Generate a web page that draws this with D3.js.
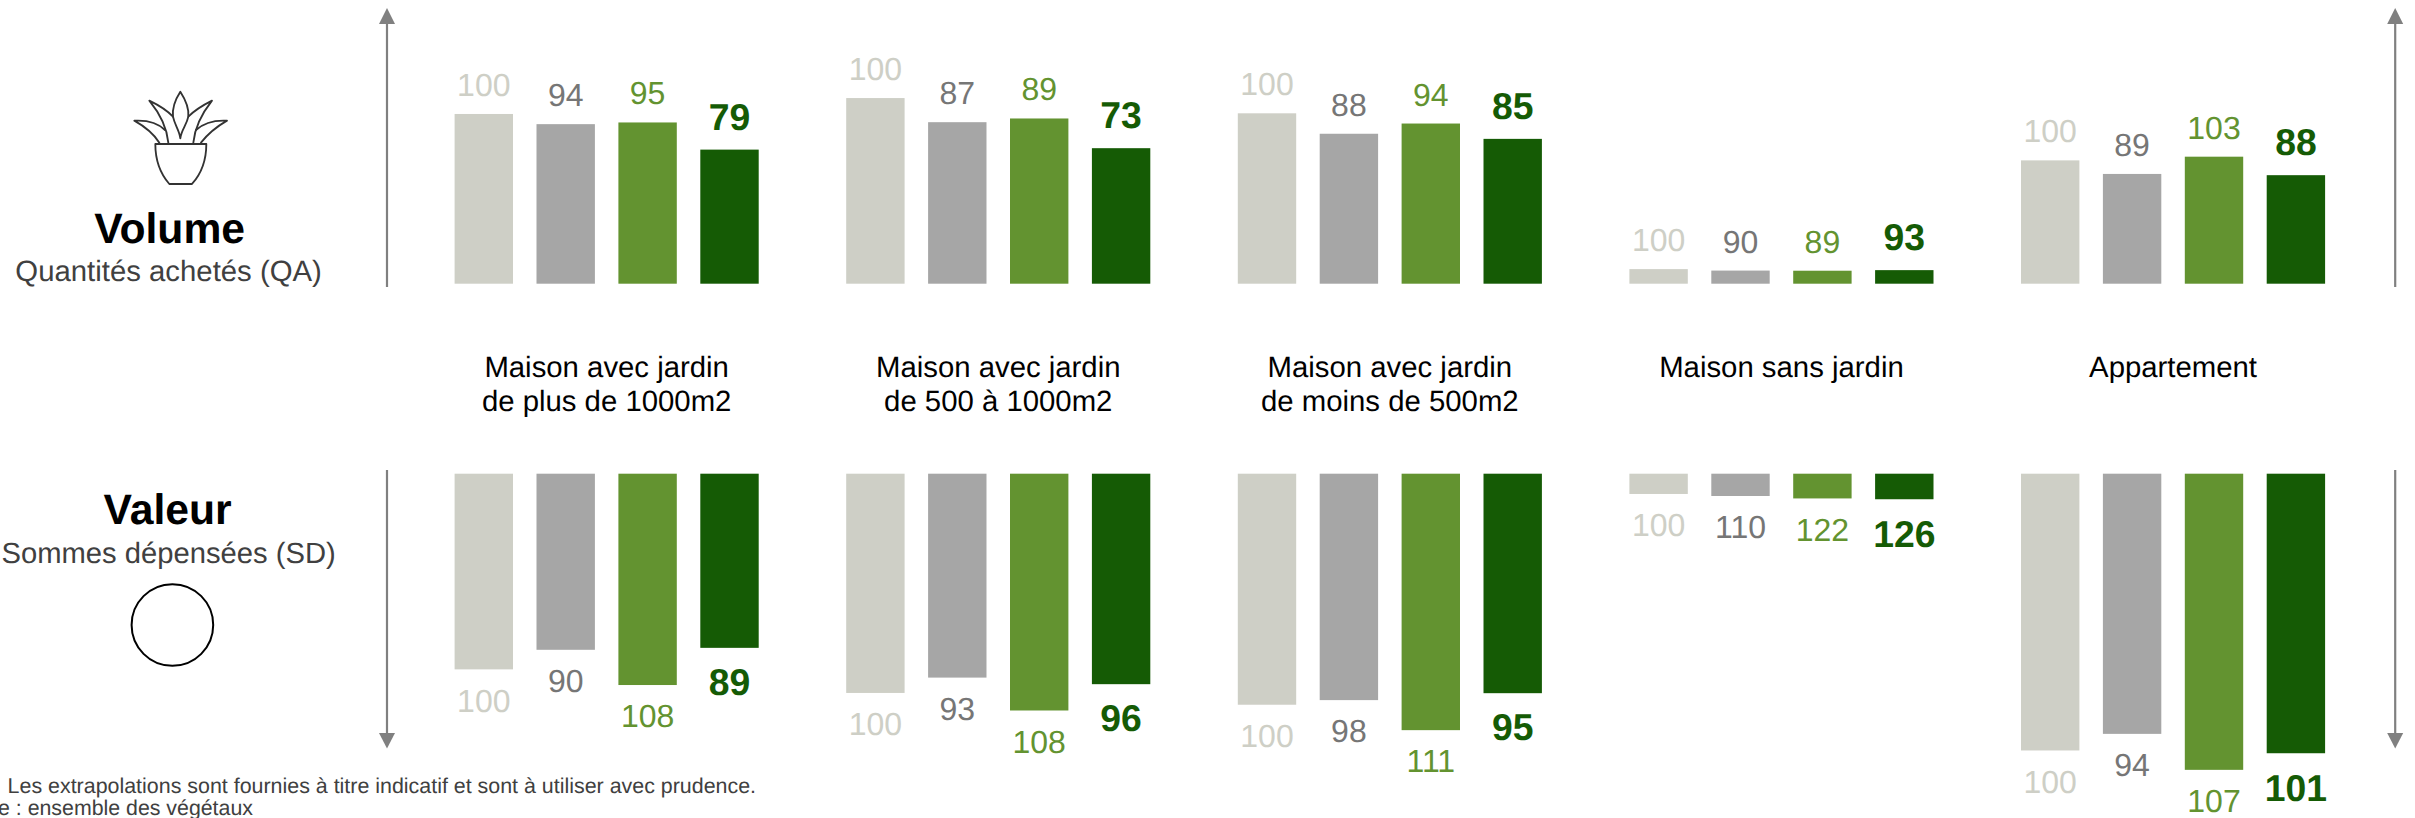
<!DOCTYPE html>
<html><head><meta charset="utf-8">
<script src="https://cdn.jsdelivr.net/npm/d3@7"></script>
<style>html,body{margin:0;padding:0;background:#fff;overflow:hidden}svg{display:block}text{font-family:"Liberation Sans",Arial,sans-serif;text-rendering:geometricPrecision}</style>
</head><body><div id="c"></div>
<script>
const categories = [["Maison avec jardin","de plus de 1000m2"],["Maison avec jardin","de 500 à 1000m2"],["Maison avec jardin","de moins de 500m2"],["Maison sans jardin"],["Appartement"]];
const series = ["s1","s2","s3","s4"];
const colors = ["#CECFC6","#A6A6A6","#639330","#155B05"];
const labelColors = ["#CECFC6","#767676","#639330","#155B05"];
const volumeIndex = [[100,94,95,79],[100,87,89,73],[100,88,94,85],[100,90,89,93],[100,89,103,88]];
const valueIndex = [[100,90,108,89],[100,93,108,96],[100,98,111,95],[100,110,122,126],[100,94,107,101]];
const volumeShare = [25.6,28.0,25.7,2.2,18.6];
const valueShare = [20.75,23.25,24.5,2.15,29.35];
const W=2415,H=818;
const svg=d3.select("#c").append("svg").attr("width",W).attr("height",H).attr("viewBox",[0,0,W,H]);
const gx=d3.scaleBand().domain(d3.range(5)).range([454.6,454.6+391.6*5]).paddingInner(0).paddingOuter(0);
const bx=d3.scaleBand().domain(series).range([0,304.1]).paddingInner(0.287);
const vol=d3.scaleLinear().domain([0,100]).range([0,663]);
const val=d3.scaleLinear().domain([0,100]).range([0,943]);
const volBase=283.7,valTop=473.7;
categories.forEach((cat,g)=>{
  const G=svg.append("g").attr("transform",`translate(${gx(g)},0)`);
  series.forEach((s,i)=>{
    const hv=vol(volumeShare[g]*volumeIndex[g][i]/100), hs=val(valueShare[g]*valueIndex[g][i]/100);
    const bold=i===3, fs=bold?37.33:32;
    G.append("rect").attr("x",bx(s)).attr("y",volBase-hv).attr("width",bx.bandwidth()).attr("height",hv).attr("fill",colors[i]);
    G.append("rect").attr("x",bx(s)).attr("y",valTop).attr("width",bx.bandwidth()).attr("height",hs).attr("fill",colors[i]);
    const cx=bx(s)+bx.bandwidth()/2;
    [[volumeIndex[g][i],volBase-hv-(bold?20:18)],[valueIndex[g][i],valTop+hs+(bold?47.3:42.3)]].forEach(([t,y])=>{
      G.append("text").attr("x",cx).attr("y",y).attr("text-anchor","middle").attr("font-size",fs).attr("font-weight",bold?"bold":"normal").attr("fill",labelColors[i]).text(t);
    });
  });
  cat.forEach((l,j)=>G.append("text").attr("x",bx.range()[1]/2).attr("y",377.3+33.4*j).attr("text-anchor","middle").attr("font-size",29.33).attr("fill","#000").text(l));
});
// arrows
[387,2395.2].forEach(x=>{
  const a="#808080";
  svg.append("line").attr("x1",x).attr("x2",x).attr("y1",287).attr("y2",20).attr("stroke",a).attr("stroke-width",2.2);
  svg.append("path").attr("d",`M${x},8 L${x+8},24 L${x-8},24Z`).attr("fill",a);
  svg.append("line").attr("x1",x).attr("x2",x).attr("y1",470).attr("y2",737).attr("stroke",a).attr("stroke-width",2.2);
  svg.append("path").attr("d",`M${x},748.5 L${x+8},733 L${x-8},733Z`).attr("fill",a);
});
// left panel
const T=(x,y,t,fs,fw,fc,anchor="middle")=>svg.append("text").attr("x",x).attr("y",y).attr("text-anchor",anchor).attr("font-size",fs).attr("font-weight",fw).attr("fill",fc).text(t);
T(169.6,243,"Volume",42.67,"bold","#000");
T(168.6,280.7,"Quantités achetés (QA)",29.33,"normal","#404040");
T(167.6,524,"Valeur",42.67,"bold","#000");
T(168.6,562.7,"Sommes dépensées (SD)",29.2,"normal","#404040");
svg.append("circle").attr("cx",172.4).attr("cy",625).attr("r",40.8).attr("fill","none").attr("stroke","#000").attr("stroke-width",2);
const plant=svg.append("g").attr("transform","translate(100,70) scale(0.3333)").attr("fill","none").attr("stroke","#333").attr("stroke-width",5.5).attr("stroke-linejoin","round").attr("stroke-linecap","round");
["M166 222 H319 C319 270 305 310 276 342 H208 C180 310 166 270 166 222 Z",
 "M241 65 C228 85 216 112 219 140 C224 165 238 180 241 205 C244 180 260 165 265 140 C268 112 254 85 241 65Z",
 "M219 140 C200 120 175 105 148 92 C175 125 200 165 205 218",
 "M265 140 C285 120 310 105 336 92 C310 125 285 165 280 218",
 "M195 180 C175 160 140 150 103 152 C135 170 160 190 178 218",
 "M288 180 C310 160 345 150 381 152 C350 170 325 190 303 218"].forEach(d=>plant.append("path").attr("d",d));
T(7.6,792.7,"Les extrapolations sont fournies à titre indicatif et sont à utiliser avec prudence.",21.42,"normal","#404040","start");
T(-2,815,"e : ensemble des végétaux",21.33,"normal","#404040","start");
</script></body></html>
